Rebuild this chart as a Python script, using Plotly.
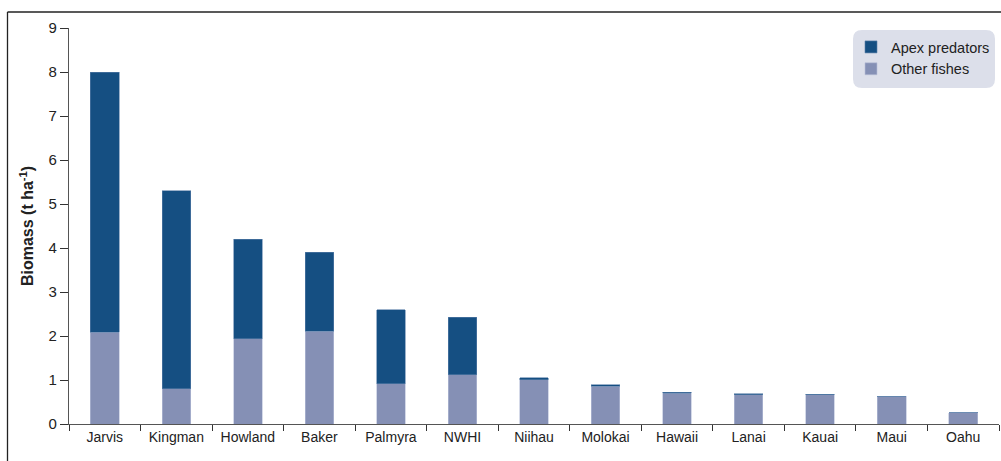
import plotly.graph_objects as go

sites = ["Jarvis", "Kingman", "Howland", "Baker", "Palmyra", "NWHI", "Niihau",
         "Molokai", "Hawaii", "Lanai", "Kauai", "Maui", "Oahu"]
other_fishes = [2.08, 0.80, 1.94, 2.11, 0.92, 1.12, 1.01, 0.86, 0.70, 0.665, 0.66, 0.63, 0.255]
apex_predators = [5.92, 4.50, 2.26, 1.79, 1.68, 1.31, 0.04, 0.03, 0.02, 0.025, 0.02, 0.006, 0.0]

W, H = 1001, 461
L, R, T, B = 69, 2, 28, 37
pw, ph = W - L - R, H - T - B

def px(x):
    return (x - L) / pw

def py(y):
    return (H - B - y) / ph

fig = go.Figure()
fig.add_trace(go.Bar(x=sites, y=other_fishes, name="Other fishes",
                     marker=dict(color="#8590b5", line=dict(color="#b8c0d8", width=0.6)),
                     width=0.4, legendgroup="o"))
fig.add_trace(go.Bar(x=sites, y=apex_predators, name="Apex predators",
                     marker=dict(color="#154f82", line=dict(color="#5a7fa8", width=0.6)),
                     width=0.4, legendgroup="a"))

# legend background (rounded)
x0, x1, y0, y1 = px(853), px(995), py(88), py(30)
rx, ry = 9 / pw, 9 / ph
path = (f"M{x0+rx},{y1} L{x1-rx},{y1} Q{x1},{y1} {x1},{y1-ry} L{x1},{y0+ry} "
        f"Q{x1},{y0} {x1-rx},{y0} L{x0+rx},{y0} Q{x0},{y0} {x0},{y0+ry} "
        f"L{x0},{y1-ry} Q{x0},{y1} {x0+rx},{y1} Z")
shapes = [
    dict(type="path", xref="paper", yref="paper", path=path,
         fillcolor="#dcdfea", line=dict(width=0), layer="below"),
    dict(type="line", xref="paper", yref="paper", x0=px(7.5), x1=px(7.5),
         y0=py(12), y1=py(470), line=dict(color="#222222", width=1.3)),
    dict(type="line", xref="paper", yref="paper", x0=px(7.5), x1=px(1010),
         y0=py(12), y1=py(12), line=dict(color="#222222", width=1.3)),
]

fig.update_layout(
    width=W, height=H,
    margin=dict(l=L, r=R, t=T, b=B),
    barmode="stack",
    plot_bgcolor="white", paper_bgcolor="white",
    font=dict(family="Liberation Sans, Arial, sans-serif", size=14, color="#222222"),
    showlegend=True,
    legend=dict(x=px(851), y=py(31), xanchor="left", yanchor="top",
                bgcolor="rgba(0,0,0,0)", traceorder="reversed",
                tracegroupgap=5, font=dict(size=14.5, color="#222222")),
    shapes=shapes,
    xaxis=dict(range=[-0.5, 12.5], showline=True, linecolor="#555555", linewidth=1.3,
               ticks="outside", tickson="boundaries", ticklen=6, tickcolor="#333333",
               showgrid=False, zeroline=False, tickfont=dict(size=14)),
    yaxis=dict(range=[0, 9], dtick=1, showline=True, linecolor="#555555", linewidth=1.3,
               ticks="outside", ticklen=8, tickcolor="#333333", showgrid=False,
               zeroline=False, tickfont=dict(size=15),
               title=dict(text="<b>Biomass (t ha<sup>-1</sup>)</b>", font=dict(size=16),
                          standoff=10)),
    bargap=0.6,
)

fig.write_html("out.html")
